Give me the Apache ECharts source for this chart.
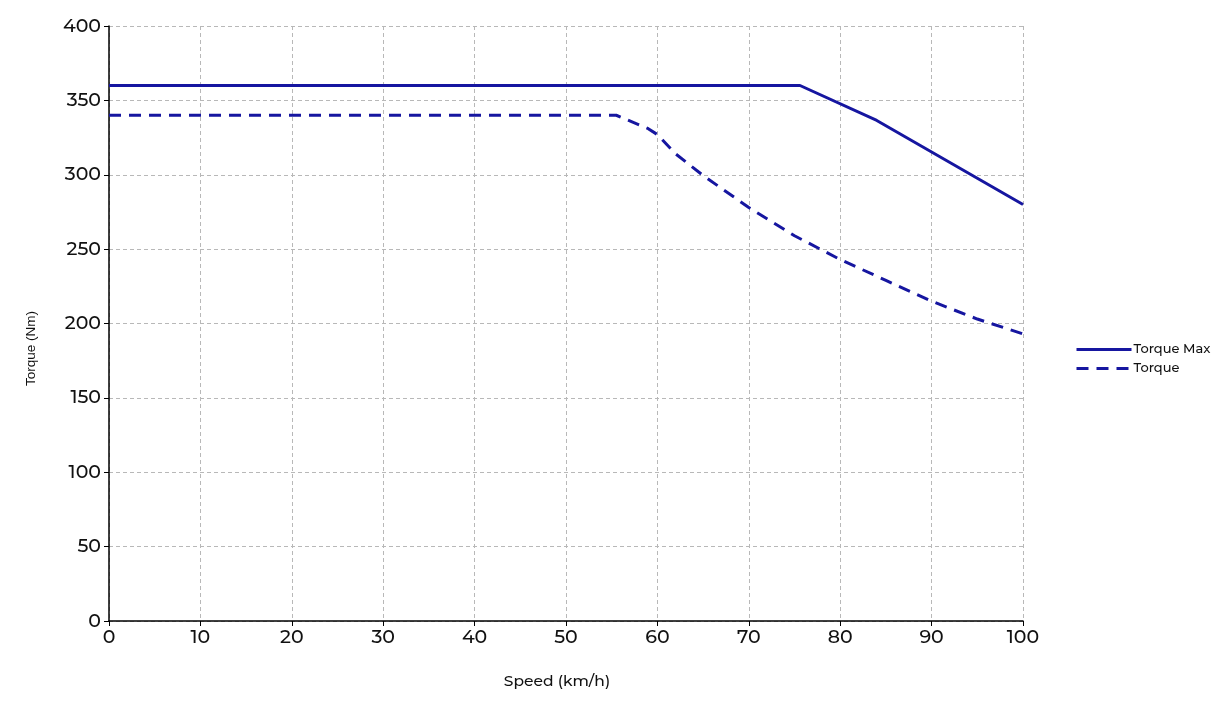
<!DOCTYPE html>
<html>
<head>
<meta charset="utf-8">
<script src="https://cdn.jsdelivr.net/npm/echarts@6/dist/echarts.min.js"></script>
<style>html,body{margin:0;padding:0;background:#fff}#c{width:1221px;height:712px}</style>
</head>
<body>
<div id="c"></div>
<script>
const seriesNames = ['Torque Max', 'Torque'];
const torqueMax = [[0,360],[75.6,360],[84,336.5],[100,280]];
const torque = [[0,340],[55.5,340],[59,331],[60,327],[62,314],[65,299.5],[70,278],[75,259],[80,243],[85,229],[90,215],[95,203],[100,193]];
const xTicks = {min:0, max:100, interval:10};
const yTicks = {min:0, max:400, interval:50};

const font = 'Montserrat, "Open Sans", Lato, sans-serif';
const col = '#1616a0';
const chart = echarts.init(document.getElementById('c'), null, {renderer:'canvas'});
chart.setOption({
  animation:false,
  backgroundColor:'#fff',
  grid:{left:109, right:198, top:26, bottom:91, containLabel:false},
  legend:{
    orient:'vertical', left:1070, top:338, itemWidth:55, itemHeight:14, itemGap:6,
    itemStyle:{opacity:0},
    lineStyle:{width:3},
    textStyle:{fontFamily:font, fontSize:13, fontWeight:500, color:'#111', padding:[0,0,0,-3]},
    data:seriesNames
  },
  xAxis:{
    type:'value', min:xTicks.min, max:xTicks.max, interval:xTicks.interval,
    name:'Speed (km/h)', nameLocation:'middle', nameGap:52,
    nameTextStyle:{fontFamily:font, fontSize:15.5, fontWeight:500, color:'#111', padding:[0,18,0,0]},
    axisLine:{show:true, lineStyle:{color:'#000', width:1.5}},
    axisTick:{show:true, length:5, lineStyle:{color:'#000'}},
    axisLabel:{fontFamily:font, fontSize:19, fontWeight:500, color:'#111', margin:7},
    splitLine:{show:true, lineStyle:{color:'#b8b8b8', type:[4,3], width:1}}
  },
  yAxis:{
    type:'value', min:yTicks.min, max:yTicks.max, interval:yTicks.interval,
    name:'Torque (Nm)', nameLocation:'middle', nameGap:71, nameRotate:90,
    nameTextStyle:{fontFamily:'"Liberation Sans", Arial, sans-serif', fontSize:13.5, color:'#111', padding:[0,50,0,0]},
    axisLine:{show:true, lineStyle:{color:'#000', width:1.5}},
    axisTick:{show:true, length:5, lineStyle:{color:'#000'}},
    axisLabel:{fontFamily:font, fontSize:19, fontWeight:500, color:'#111', margin:8},
    splitLine:{show:true, lineStyle:{color:'#b8b8b8', type:[4,3], width:1}}
  },
  series:[
    {name:seriesNames[0], type:'line', data:torqueMax, symbol:'none', lineStyle:{color:col, width:3}, itemStyle:{color:col}},
    {name:seriesNames[1], type:'line', data:torque, symbol:'none', lineStyle:{color:col, width:3, type:[12,8]}, itemStyle:{color:col}}
  ]
});
</script>
</body>
</html>
